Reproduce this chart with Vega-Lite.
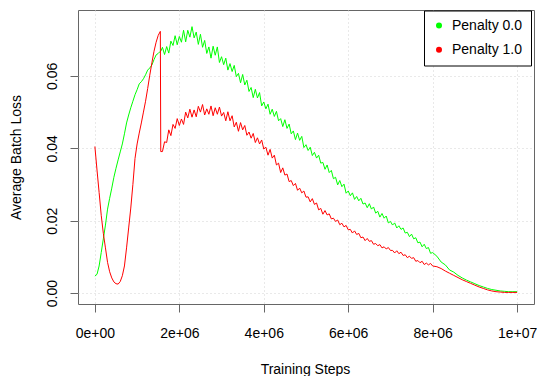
{
"$schema": "https://vega.github.io/schema/vega-lite/v6.json",
"width": 456, "height": 294,
"autosize": {"type": "none"},
"padding": {"left": 78, "top": 10, "right": 3, "bottom": 72},
"background": "white",
"config": {
  "font": "Liberation Sans",
  "view": {"stroke": "#666666", "strokeWidth": 1},
  "axis": {"grid": true, "gridColor": "#d3d3d3", "gridDash": [1, 3], "gridWidth": 1, "domain": false, "tickColor": "#666666", "tickSize": 8, "labelFontSize": 14, "labelColor": "#000000", "titleFontSize": 14, "titleFontWeight": "normal", "titleColor": "#000000", "labelFlush": false, "labelOverlap": false}
},
"data": {"values": [
{"x":0,"g":0.0047,"r":0.0405},
{"x":50000,"g":0.0052,"r":0.0340},
{"x":100000,"g":0.0075,"r":0.0278},
{"x":150000,"g":0.0112,"r":0.0215},
{"x":200000,"g":0.0150,"r":0.0165},
{"x":250000,"g":0.0188,"r":0.0125},
{"x":300000,"g":0.0232,"r":0.0085},
{"x":350000,"g":0.0262,"r":0.0059},
{"x":400000,"g":0.0290,"r":0.0042},
{"x":450000,"g":0.0320,"r":0.0031},
{"x":500000,"g":0.0345,"r":0.0026},
{"x":550000,"g":0.0368,"r":0.0025},
{"x":600000,"g":0.0390,"r":0.0032},
{"x":650000,"g":0.0412,"r":0.0048},
{"x":700000,"g":0.0440,"r":0.0075},
{"x":750000,"g":0.0470,"r":0.0125},
{"x":800000,"g":0.0492,"r":0.0180},
{"x":850000,"g":0.0512,"r":0.0235},
{"x":900000,"g":0.0530,"r":0.0300},
{"x":950000,"g":0.0548,"r":0.0372},
{"x":1000000,"g":0.0562,"r":0.0412},
{"x":1050000,"g":0.0578,"r":0.0442},
{"x":1100000,"g":0.0584,"r":0.0470},
{"x":1150000,"g":0.0592,"r":0.0500},
{"x":1200000,"g":0.0603,"r":0.0530},
{"x":1250000,"g":0.0616,"r":0.0565},
{"x":1300000,"g":0.0622,"r":0.0602},
{"x":1350000,"g":0.0630,"r":0.0636},
{"x":1400000,"g":0.0645,"r":0.0668},
{"x":1450000,"g":0.0658,"r":0.0693},
{"x":1500000,"g":0.0662,"r":0.0712},
{"x":1550000,"g":0.0668,"r":0.0723},
{"x":1560000,"g":0.0668,"r":0.0391},
{"x":1600000,"g":0.0679,"r":0.0391},
{"x":1650000,"g":0.0659,"r":0.0418},
{"x":1700000,"g":0.0681,"r":0.0416},
{"x":1750000,"g":0.0663,"r":0.0451},
{"x":1800000,"g":0.0696,"r":0.0435},
{"x":1850000,"g":0.0684,"r":0.0466},
{"x":1900000,"g":0.0711,"r":0.0455},
{"x":1950000,"g":0.0686,"r":0.0482},
{"x":2000000,"g":0.0709,"r":0.0463},
{"x":2050000,"g":0.0693,"r":0.0481},
{"x":2100000,"g":0.0726,"r":0.0466},
{"x":2150000,"g":0.0694,"r":0.0500},
{"x":2200000,"g":0.0726,"r":0.0484},
{"x":2250000,"g":0.0707,"r":0.0508},
{"x":2300000,"g":0.0736,"r":0.0486},
{"x":2350000,"g":0.0705,"r":0.0506},
{"x":2400000,"g":0.0721,"r":0.0487},
{"x":2450000,"g":0.0687,"r":0.0516},
{"x":2500000,"g":0.0715,"r":0.0500},
{"x":2550000,"g":0.0679,"r":0.0521},
{"x":2600000,"g":0.0698,"r":0.0492},
{"x":2650000,"g":0.0662,"r":0.0509},
{"x":2700000,"g":0.0680,"r":0.0494},
{"x":2750000,"g":0.0649,"r":0.0517},
{"x":2800000,"g":0.0682,"r":0.0490},
{"x":2850000,"g":0.0657,"r":0.0512},
{"x":2900000,"g":0.0680,"r":0.0494},
{"x":2950000,"g":0.0637,"r":0.0514},
{"x":3000000,"g":0.0653,"r":0.0489},
{"x":3050000,"g":0.0631,"r":0.0499},
{"x":3100000,"g":0.0649,"r":0.0476},
{"x":3150000,"g":0.0616,"r":0.0501},
{"x":3200000,"g":0.0634,"r":0.0476},
{"x":3250000,"g":0.0612,"r":0.0490},
{"x":3300000,"g":0.0629,"r":0.0459},
{"x":3350000,"g":0.0598,"r":0.0472},
{"x":3400000,"g":0.0607,"r":0.0447},
{"x":3450000,"g":0.0581,"r":0.0471},
{"x":3500000,"g":0.0604,"r":0.0451},
{"x":3550000,"g":0.0575,"r":0.0463},
{"x":3600000,"g":0.0588,"r":0.0436},
{"x":3650000,"g":0.0557,"r":0.0445},
{"x":3700000,"g":0.0568,"r":0.0428},
{"x":3750000,"g":0.0540,"r":0.0441},
{"x":3800000,"g":0.0563,"r":0.0416},
{"x":3850000,"g":0.0539,"r":0.0429},
{"x":3900000,"g":0.0554,"r":0.0412},
{"x":3950000,"g":0.0517,"r":0.0423},
{"x":4000000,"g":0.0528,"r":0.0398},
{"x":4050000,"g":0.0509,"r":0.0403},
{"x":4100000,"g":0.0522,"r":0.0381},
{"x":4150000,"g":0.0494,"r":0.0397},
{"x":4200000,"g":0.0508,"r":0.0373},
{"x":4250000,"g":0.0488,"r":0.0381},
{"x":4300000,"g":0.0502,"r":0.0354},
{"x":4350000,"g":0.0476,"r":0.0359},
{"x":4400000,"g":0.0482,"r":0.0333},
{"x":4450000,"g":0.0460,"r":0.0346},
{"x":4500000,"g":0.0479,"r":0.0326},
{"x":4550000,"g":0.0455,"r":0.0329},
{"x":4600000,"g":0.0467,"r":0.0308},
{"x":4650000,"g":0.0440,"r":0.0311},
{"x":4700000,"g":0.0448,"r":0.0297},
{"x":4750000,"g":0.0424,"r":0.0303},
{"x":4800000,"g":0.0442,"r":0.0284},
{"x":4850000,"g":0.0422,"r":0.0290},
{"x":4900000,"g":0.0433,"r":0.0277},
{"x":4950000,"g":0.0402,"r":0.0282},
{"x":5000000,"g":0.0410,"r":0.0265},
{"x":5050000,"g":0.0394,"r":0.0266},
{"x":5100000,"g":0.0403,"r":0.0252},
{"x":5150000,"g":0.0380,"r":0.0261},
{"x":5200000,"g":0.0389,"r":0.0245},
{"x":5250000,"g":0.0373,"r":0.0249},
{"x":5300000,"g":0.0381,"r":0.0230},
{"x":5350000,"g":0.0359,"r":0.0234},
{"x":5400000,"g":0.0361,"r":0.0218},
{"x":5450000,"g":0.0342,"r":0.0228},
{"x":5500000,"g":0.0354,"r":0.0216},
{"x":5550000,"g":0.0333,"r":0.0219},
{"x":5600000,"g":0.0339,"r":0.0205},
{"x":5650000,"g":0.0316,"r":0.0207},
{"x":5700000,"g":0.0320,"r":0.0198},
{"x":5750000,"g":0.0299,"r":0.0202},
{"x":5800000,"g":0.0311,"r":0.0189},
{"x":5850000,"g":0.0294,"r":0.0193},
{"x":5900000,"g":0.0301,"r":0.0183},
{"x":5950000,"g":0.0276,"r":0.0187},
{"x":6000000,"g":0.0282,"r":0.0175},
{"x":6050000,"g":0.0269,"r":0.0176},
{"x":6100000,"g":0.0277,"r":0.0166},
{"x":6150000,"g":0.0259,"r":0.0172},
{"x":6200000,"g":0.0267,"r":0.0162},
{"x":6250000,"g":0.0255,"r":0.0165},
{"x":6300000,"g":0.0262,"r":0.0153},
{"x":6350000,"g":0.0246,"r":0.0155},
{"x":6400000,"g":0.0249,"r":0.0145},
{"x":6450000,"g":0.0236,"r":0.0151},
{"x":6500000,"g":0.0247,"r":0.0143},
{"x":6550000,"g":0.0232,"r":0.0145},
{"x":6600000,"g":0.0238,"r":0.0135},
{"x":6650000,"g":0.0221,"r":0.0137},
{"x":6700000,"g":0.0226,"r":0.0131},
{"x":6750000,"g":0.0210,"r":0.0134},
{"x":6800000,"g":0.0220,"r":0.0125},
{"x":6850000,"g":0.0207,"r":0.0128},
{"x":6900000,"g":0.0213,"r":0.0122},
{"x":6950000,"g":0.0194,"r":0.0126},
{"x":7000000,"g":0.0198,"r":0.0118},
{"x":7050000,"g":0.0188,"r":0.0118},
{"x":7100000,"g":0.0194,"r":0.0111},
{"x":7150000,"g":0.0180,"r":0.0117},
{"x":7200000,"g":0.0186,"r":0.0109},
{"x":7250000,"g":0.0176,"r":0.0113},
{"x":7300000,"g":0.0180,"r":0.0104},
{"x":7350000,"g":0.0166,"r":0.0106},
{"x":7400000,"g":0.0168,"r":0.0098},
{"x":7450000,"g":0.0156,"r":0.0102},
{"x":7500000,"g":0.0163,"r":0.0096},
{"x":7550000,"g":0.0150,"r":0.0098},
{"x":7600000,"g":0.0153,"r":0.0088},
{"x":7650000,"g":0.0139,"r":0.0090},
{"x":7700000,"g":0.0141,"r":0.0084},
{"x":7750000,"g":0.0128,"r":0.0088},
{"x":7800000,"g":0.0135,"r":0.0079},
{"x":7850000,"g":0.0123,"r":0.0083},
{"x":7900000,"g":0.0126,"r":0.0078},
{"x":7950000,"g":0.0110,"r":0.0082},
{"x":8000000,"g":0.0112,"r":0.0075},
{"x":8100000,"g":0.0102,"r":0.0073},
{"x":8200000,"g":0.0086,"r":0.0068},
{"x":8300000,"g":0.0078,"r":0.0061},
{"x":8400000,"g":0.0064,"r":0.0055},
{"x":8500000,"g":0.0058,"r":0.0049},
{"x":8600000,"g":0.0049,"r":0.0043},
{"x":8700000,"g":0.0042,"r":0.0037},
{"x":8800000,"g":0.0036,"r":0.0032},
{"x":8900000,"g":0.0031,"r":0.0027},
{"x":9000000,"g":0.0026,"r":0.0022},
{"x":9100000,"g":0.0021,"r":0.0017},
{"x":9200000,"g":0.0017,"r":0.0013},
{"x":9300000,"g":0.0013,"r":0.0009},
{"x":9400000,"g":0.0010,"r":0.0006},
{"x":9500000,"g":0.0008,"r":0.0004},
{"x":9600000,"g":0.0006,"r":0.0003},
{"x":9700000,"g":0.0005,"r":0.0002},
{"x":9800000,"g":0.0004,"r":0.0002},
{"x":9900000,"g":0.0004,"r":0.0002},
{"x":10000000,"g":0.0004,"r":0.0002}
]},
"transform": [{"fold": ["g", "r"], "as": ["k", "y"]}],
"mark": {"type": "line", "strokeWidth": 1, "strokeJoin": "round", "clip": true},
"encoding": {
  "x": {"field": "x", "type": "quantitative",
    "scale": {"domain": [-400000, 10400000], "nice": false, "zero": false},
    "axis": {"values": [0, 2000000, 4000000, 6000000, 8000000, 10000000],
      "labelExpr": "datum.value == 0 ? '0e+00' : (datum.value == 10000000 ? '1e+07' : (datum.value / 1000000) + 'e+06')",
      "title": "Training Steps", "labelBaseline": "alphabetic", "labelPadding": 25.7,
      "titleBaseline": "alphabetic", "titleAlign": "center", "titleX": 227, "titleY": 69.3}},
  "y": {"field": "y", "type": "quantitative",
    "scale": {"domain": [-0.003, 0.0782], "nice": false, "zero": false},
    "axis": {"values": [0, 0.02, 0.04, 0.06], "format": ".2f",
      "title": "Average Batch Loss", "labelAngle": -90, "labelAlign": "center", "labelBaseline": "alphabetic", "labelPadding": 14,
      "titleAngle": -90, "titleBaseline": "alphabetic", "titleAlign": "center", "titleX": -57.5, "titleY": 147}},
  "color": {"field": "k", "type": "nominal",
    "scale": {"domain": ["g", "r"], "range": ["#00FF00", "#FF0000"]},
    "legend": {"title": null, "orient": "none", "legendX": 346, "legendY": 0.5,
      "symbolType": "circle", "symbolSize": 36, "symbolStrokeWidth": 0,
      "labelFontSize": 14, "labelColor": "#000000", "labelOffset": 6,
      "labelExpr": "datum.label == 'g' ? 'Penalty 0.0' : 'Penalty 1.0'",
      "padding": 8, "rowPadding": 10.3, "strokeColor": "#000000", "fillColor": "#ffffff",
      "encode": {"symbols": {"update": {"fill": {"scale": "color", "field": "value"}, "opacity": {"value": 1}}}}}}
}
}
